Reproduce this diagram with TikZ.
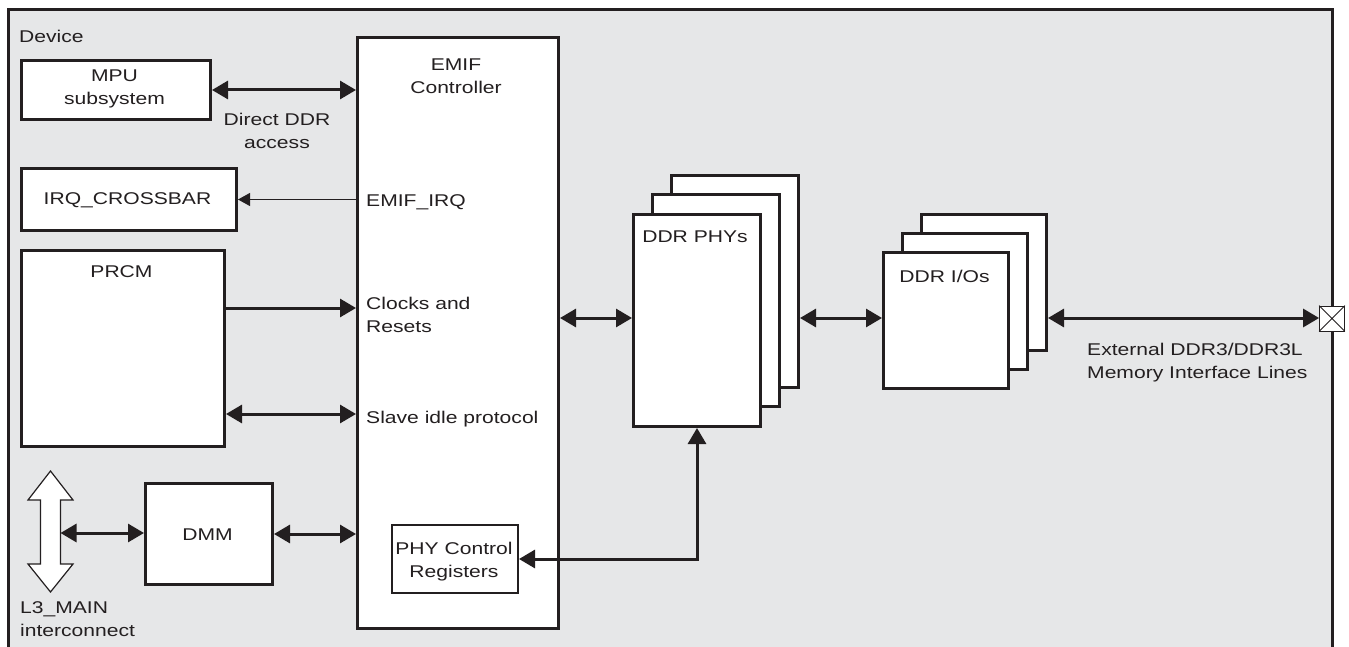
\documentclass[tikz,border=0pt]{standalone}
\usepackage{fontspec}
\setmainfont{Liberation Sans}[FakeStretch=1.24]
\usetikzlibrary{positioning, arrows.meta}
\definecolor{inkBlk}{RGB}{35,31,32}
\definecolor{devGray}{RGB}{230,231,232}
\tikzset{
  blk/.style={draw=inkBlk, line width=3pt, fill=white, inner sep=0pt, anchor=north west},
  txt/.style={font=\fontsize{17}{23}\selectfont, text=inkBlk, inner sep=0pt, align=center},
  bus/.style={draw=inkBlk, line width=3pt, {Triangle[length=16pt, width=18pt]}-{Triangle[length=16pt, width=18pt]}},
  feed/.style={draw=inkBlk, line width=3pt, -{Triangle[length=16pt, width=18pt]}},
  irqline/.style={draw=inkBlk, line width=1pt, -{Triangle[length=12pt, width=13pt]}},
}
\begin{document}
\begin{tikzpicture}[x=1pt, y=-1pt]
    \useasboundingbox (0,0) rectangle (1349,647);
    % device frame, open at the bottom of the page
    \draw[inkBlk, line width=3pt, fill=devGray] (8,10) rectangle (1332,690);
    \node[txt, anchor=base west] (devlbl) at (19,43) {Device};

    % left column
    \node[blk, minimum width=189pt, minimum height=59pt] (mpu) at (20,59) {};
    \node[txt, anchor=base] (mputxt) at (114.5,105) {MPU\\subsystem};
    \node[blk, minimum width=215pt, minimum height=62pt] (irq) at (20,167) {};
    \node[txt, anchor=base] (irqtxt) at (127.5,205) {IRQ\_CROSSBAR};
    \node[blk, minimum width=203pt, minimum height=196pt] (prcm) at (20,249) {};
    \node[txt, anchor=base] (prcmtxt) at (121.5,277) {PRCM};
    \node[blk, minimum width=127pt, minimum height=101pt] (dmm) at (144,482) {};
    \node[txt, anchor=base] (dmmtxt) at (207.5,540) {DMM};

    % L3 interconnect (hollow double arrow)
    \draw[inkBlk, line width=1.2pt, fill=white] (50.5,471) -- (73,500) -- (60.5,500) -- (60.5,564) -- (73,564)
        -- (50.5,592) -- (28,564) -- (40.5,564) -- (40.5,500) -- (28,500) -- cycle;
    \coordinate (l3) at (60.5,533);
    \node[txt, anchor=base west, align=left] (l3txt) at (20,636) {L3\_MAIN\\interconnect};

    % EMIF controller
    \node[blk, minimum width=201pt, minimum height=591pt] (emif) at (356,36) {};
    \node[txt, anchor=base] (emiftxt) at (456,94) {EMIF\\Controller};
    \node[txt, anchor=base west] (irqsig) at (366,207) {EMIF\_IRQ};
    \node[txt, anchor=base west, align=left] (clktxt) at (366,332) {Clocks and\\Resets};
    \node[txt, anchor=base west] (idletxt) at (366,423) {Slave idle protocol};
    \node[blk, line width=2pt, minimum width=126pt, minimum height=68pt] (phyctl) at (391,524) {};
    \node[txt, anchor=base] (phyctltxt) at (454,577) {PHY Control\\Registers};
    \node[txt, anchor=base] (ddrtxt) at (277,149) {Direct DDR\\access};

    % DDR PHYs, three deep
    \node[blk, minimum width=127pt, minimum height=212pt] (phyC) at (670,174) {};
    \node[blk, minimum width=127pt, minimum height=212pt] (phyB) at (651,193) {};
    \node[blk, minimum width=127pt, minimum height=212pt] (phyA) at (632,213) {};
    \node[txt, anchor=base] (phytxt) at (695,243) {DDR PHYs};

    % DDR I/Os, three deep
    \node[blk, minimum width=125pt, minimum height=136pt] (ioC) at (920,213) {};
    \node[blk, minimum width=125pt, minimum height=136pt] (ioB) at (901,232) {};
    \node[blk, minimum width=125pt, minimum height=136pt] (ioA) at (882,251) {};
    \node[txt, anchor=base] (iotxt) at (944.5,282) {DDR I/Os};

    % pad on the device edge
    \node[draw=inkBlk, line width=0.8pt, fill=white, minimum size=25pt, inner sep=0pt] (pad) at (1332,318.5) {};
    \draw[inkBlk, line width=0.8pt] (pad.north west) -- (pad.south east) (pad.north east) -- (pad.south west);
    \node[txt, anchor=base west, align=left] (exttxt) at (1087,378) {External DDR3/DDR3L\\Memory Interface Lines};

    % connectors
    \coordinate (clk) at (0,308);
    \coordinate (idle) at (0,414);
    \coordinate (datarow) at (0,318);
    \draw[bus] (mpu.east) -- (mpu.east -| emif.west);
    \draw[irqline] (irq.east -| emif.west) -- (irq.east);
    \draw[feed] (prcm.east |- clk) -- (emif.west |- clk);
    \draw[bus] (prcm.east |- idle) -- (emif.west |- idle);
    \draw[bus] (l3) -- (l3 -| dmm.west);
    \draw[bus] (dmm.east) -- (dmm.east -| emif.west);
    \draw[bus] (emif.east |- datarow) -- (phyA.west |- datarow);
    \draw[bus] (phyC.east |- datarow) -- (ioA.west |- datarow);
    \draw[bus] (ioC.east |- datarow) -- (pad.west |- datarow);
    \draw[bus] (phyctl.east) -| (phyA.south);
\end{tikzpicture}
\end{document}
